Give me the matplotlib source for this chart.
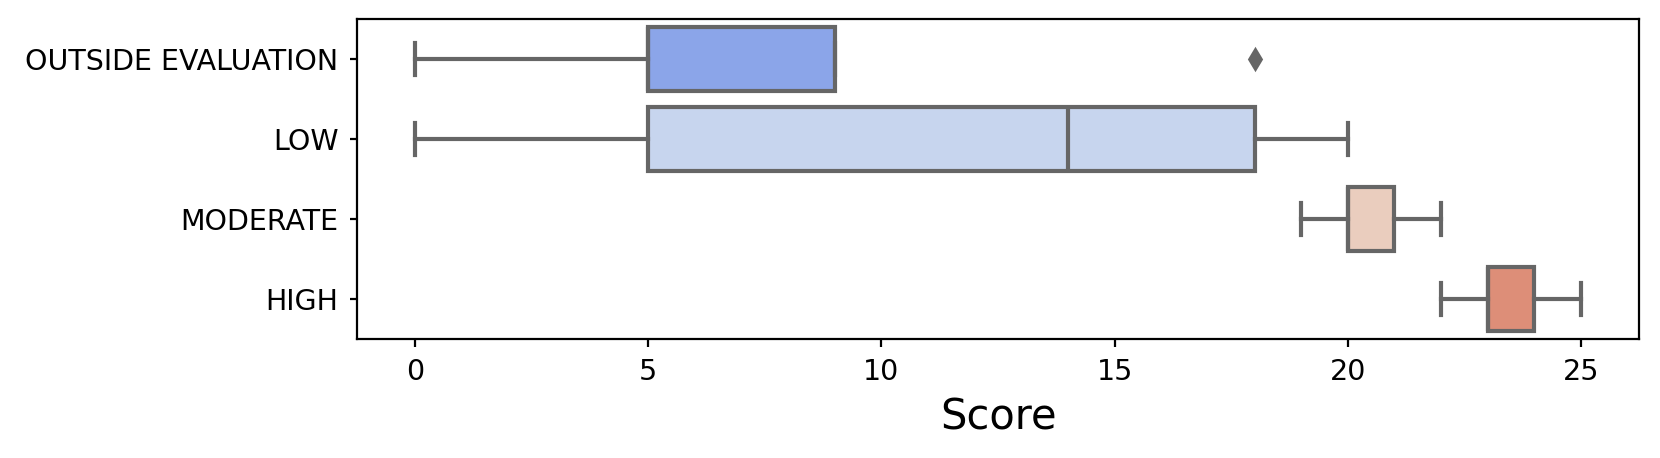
import numpy as np
import matplotlib
matplotlib.use("Agg")
import matplotlib.pyplot as plt
import seaborn as sns

categories = ["OUTSIDE EVALUATION", "LOW", "MODERATE", "HIGH"]
whislo = [0, 0, 19, 22]
q1 = [5, 5, 20, 23]
med = [5, 14, 20, 23]
q3 = [9, 18, 21, 24]
whishi = [9, 20, 22, 25]
fliers = [[18], [], [], []]

stats = []
for i, name in enumerate(categories):
    stats.append(dict(label=name, whislo=whislo[i], q1=q1[i], med=med[i],
                      q3=q3[i], whishi=whishi[i], fliers=fliers[i]))

colors = [sns.desaturate(c, 0.75) for c in sns.color_palette("coolwarm", 4)]
gray = "#666666"
lw = 1.5

fig = plt.figure(figsize=(8.3, 2.29), dpi=200)
ax = fig.add_axes([0.215, 0.26, 0.7725, 0.6985])

bp = ax.bxp(stats, positions=range(len(categories)), vert=False, widths=0.8,
            patch_artist=True,
            boxprops=dict(edgecolor=gray, linewidth=lw),
            whiskerprops=dict(color=gray, linewidth=lw),
            capprops=dict(color=gray, linewidth=lw),
            medianprops=dict(color=gray, linewidth=lw),
            flierprops=dict(marker="d", markerfacecolor=gray, markeredgecolor=gray,
                            markersize=5, linestyle="none"))
for patch, c in zip(bp["boxes"], colors):
    patch.set_facecolor(c)

ax.set_yticks(range(len(categories)))
ax.set_yticklabels(categories, fontsize=10.25)
ax.set_ylim(3.5, -0.5)
ax.set_xlim(-1.25, 26.25)
ax.set_xticks([0, 5, 10, 15, 20, 25])
ax.tick_params(axis="x", labelsize=10.25)
ax.tick_params(length=2.7, pad=4)
ax.set_xlabel("Score", fontsize=15)

fig.savefig("out.png", dpi=200)
